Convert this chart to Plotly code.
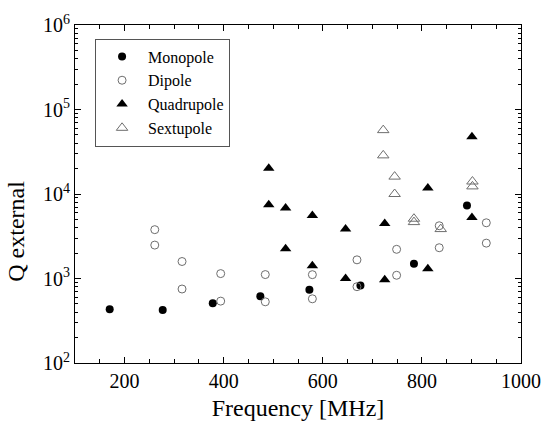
import plotly.graph_objects as go

mono_x = [170, 277, 378, 474, 573, 676, 784, 891]
mono_y = [433, 425, 508, 618, 738, 829, 1494, 7310]

dip_x = [261, 261, 316, 316, 394, 394, 484, 484, 579, 579, 669, 669, 749, 749, 835, 835, 930, 930]
dip_y = [3783, 2486, 1589, 751, 1143, 540, 1113, 530, 1110, 575, 1663, 800, 2215, 1092, 4210, 2313, 4563, 2622]

quad_x = [491, 491, 525, 525, 579, 579, 646, 646, 725, 725, 812, 812, 901, 901]
quad_y = [20200, 7450, 6820, 2250, 5550, 1416, 3846, 1000, 4480, 966, 11740, 1306, 47600, 5260]

sext_x = [722, 722, 745, 745, 784, 784, 838, 902, 902]
sext_y = [57000, 28660, 16060, 10000, 5100, 4650, 3845, 14050, 12300]

ytick_vals = [1e2, 1e3, 1e4, 1e5, 1e6]
ytick_text = ["10<sup>2</sup>", "10<sup>3</sup>", "10<sup>4</sup>", "10<sup>5</sup>", "10<sup>6</sup>"]
ytick_minor = [m * 10 ** k for k in range(2, 6) for m in range(2, 10)]

FONT = "Liberation Serif, Times New Roman, serif"
GREY = "#6e6e6e"

fig = go.Figure()
fig.add_trace(go.Scatter(x=mono_x, y=mono_y, mode="markers", name="Monopole",
                         marker=dict(symbol="circle", size=8, color="black")))
fig.add_trace(go.Scatter(x=dip_x, y=dip_y, mode="markers", name="Dipole",
                         marker=dict(symbol="circle-open", size=8, color=GREY, line=dict(width=1))))
fig.add_trace(go.Scatter(x=quad_x, y=quad_y, mode="markers", name="Quadrupole",
                         marker=dict(symbol="triangle-up", size=10, color="black")))
fig.add_trace(go.Scatter(x=sext_x, y=sext_y, mode="markers", name="Sextupole",
                         marker=dict(symbol="triangle-up-open", size=10, color=GREY, line=dict(width=1))))

fig.update_layout(
    width=553, height=429,
    margin=dict(l=75, r=20, t=20, b=66),
    paper_bgcolor="white", plot_bgcolor="white",
    font=dict(family=FONT, color="black", size=20),
    showlegend=True,
    legend=dict(x=0.045, y=0.96, xanchor="left", yanchor="top",
                bgcolor="white", bordercolor="#555555", borderwidth=1,
                font=dict(family=FONT, size=16), tracegroupgap=0, itemwidth=42),
    annotations=[dict(text="Q external", textangle=-90, xref="paper", yref="paper",
                      x=-0.131, y=0.39, xanchor="center", yanchor="middle",
                      showarrow=False, font=dict(family=FONT, size=24, color="black"))],
)
fig.update_xaxes(
    range=[100, 1000], tick0=0, dtick=200,
    ticks="inside", ticklen=6, tickcolor="black", tickwidth=1,
    minor=dict(ticks="inside", ticklen=4, dtick=50, tick0=0, tickcolor="black", showgrid=False),
    showline=True, linecolor="black", linewidth=1, mirror="ticks",
    showgrid=False, zeroline=False,
    title=dict(text="Frequency [MHz]", font=dict(size=24, family=FONT), standoff=8),
    tickfont=dict(size=20, family=FONT),
)
fig.update_yaxes(
    type="log", range=[2, 6],
    tickvals=ytick_vals, ticktext=ytick_text,
    ticks="inside", ticklen=6, tickcolor="black", tickwidth=1,
    minor=dict(ticks="inside", ticklen=3, tickcolor="black", showgrid=False,
               tickmode="array", tickvals=ytick_minor),
    showline=True, linecolor="black", linewidth=1, mirror="ticks",
    showgrid=False, zeroline=False,
    tickfont=dict(size=20, family=FONT),
)

fig.write_html("out.html")
